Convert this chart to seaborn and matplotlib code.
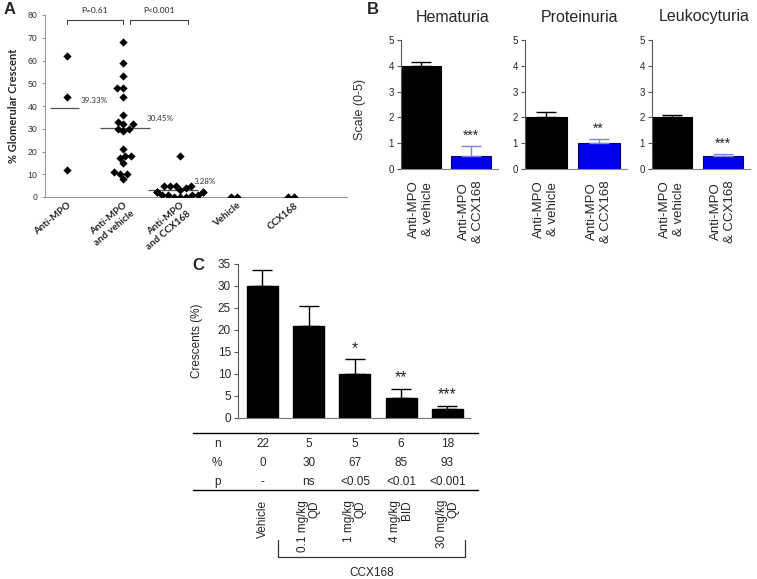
import numpy as np
import pandas as pd
import matplotlib
matplotlib.use('Agg')
import matplotlib.pyplot as plt
import matplotlib.transforms as mtransforms
import seaborn as sns

# ---- data: panel A (% glomerular crescent per mouse) ----
groups_a = ['Anti-MPO', 'Anti-MPO\nand vehicle', 'Anti-MPO\nand CCX168', 'Vehicle', 'CCX168']
anti_mpo = [62, 44, 12]
anti_mpo_vehicle = [68, 59, 53, 48, 48, 44, 36, 33, 32, 32, 30, 30, 29, 21,
                    18, 18, 17, 15, 11, 10, 10, 8]
anti_mpo_ccx = [18, 5, 5, 5, 5, 4, 3, 2, 2, 2, 2, 2, 1, 1, 1, 1, 0, 0, 0]
vehicle_only = [0, 0]
ccx_only = [0, 0]
mean_labels = ['39.33%', '30.45%', '3.28%']
mean_values = [39.33, 30.45, 3.28]
p_labels_a = ['P=0.61', 'P<0.001']

# ---- data: panel B (urine scores) ----
b_titles = ['Hematuria', 'Proteinuria', 'Leukocyturia']
b_groups = ['Anti-MPO\n& vehicle', 'Anti-MPO\n& CCX168']
b_means = [[4.0, 0.5], [2.0, 1.0], [2.0, 0.5]]
b_err = [[0.15, 0.4], [0.22, 0.15], [0.08, 0.1]]
b_stars = ['***', '**', '***']

# ---- data: panel C (dose response) ----
c_groups = ['Vehicle', '0.1 mg/kg\nQD', '1 mg/kg\nQD', '4 mg/kg\nBID', '30 mg/kg\nQD']
c_means = [30, 21, 10, 4.5, 2]
c_err = [3.7, 4.5, 3.3, 2.2, 0.8]
c_stars = ['', '', '*', '**', '***']
table_n = ['22', '5', '5', '6', '18']
table_pct = ['0', '30', '67', '85', '93']
table_p = ['-', 'ns', '<0.05', '<0.01', '<0.001']

sns.set_style('ticks')
plt.rcParams['font.family'] = ['Liberation Sans', 'DejaVu Sans']

W, H = 757, 579
fig = plt.figure(figsize=(W / 100, H / 100), dpi=100)


def rect(l, t, r, b):
    return [l / W, 1 - b / H, (r - l) / W, (b - t) / H]


def ftext(x, y, s, **kw):
    fig.text(x / W, 1 - y / H, s, **kw)


# ================= Panel A =================
axA = fig.add_axes(rect(45, 15, 347, 197))
df_a = pd.DataFrame({
    'group': [groups_a[0]] * len(anti_mpo) + [groups_a[1]] * len(anti_mpo_vehicle)
             + [groups_a[2]] * len(anti_mpo_ccx) + [groups_a[3]] * len(vehicle_only)
             + [groups_a[4]] * len(ccx_only),
    'value': anti_mpo + anti_mpo_vehicle + anti_mpo_ccx + vehicle_only + ccx_only,
})
sns.swarmplot(data=df_a, x='group', y='value', order=groups_a, color='black',
              marker='D', size=4.2, ax=axA, warn_thresh=1)
axA.set_xlim(-0.38, 4.94)
axA.set_ylim(0, 80)
axA.set_yticks(range(0, 81, 10))
axA.set_xlabel('')
axA.set_ylabel('% Glomerular Crescent', family='Lato', fontweight='bold', fontsize=8, labelpad=6)
for s in ['top', 'right']:
    axA.spines[s].set_visible(False)
for s in ['left', 'bottom']:
    axA.spines[s].set_color('#9a9a9a')
    axA.spines[s].set_linewidth(0.8)
axA.tick_params(axis='y', labelsize=6.3, length=2, color='#9a9a9a', labelcolor='#333333')
axA.tick_params(axis='x', length=0, pad=3)
axA.set_xticks(range(len(groups_a)))
axA.set_xticklabels(groups_a, rotation=40, ha='right', va='top', rotation_mode='anchor',
                    family='Lato', fontweight='bold', fontsize=7, color='#222222')

# mean lines and labels
spans = [(-0.30, 0.22), (-0.41, 0.47), (-0.57, 0.31)]
label_pos = [(0.24, 42.3), (1.41, 34.6), (2.23, 6.9)]
for i, (m, lab) in enumerate(zip(mean_values, mean_labels)):
    axA.hlines(m, i + spans[i][0], i + spans[i][1], color='#555555', lw=0.9)
    axA.text(label_pos[i][0], label_pos[i][1], lab, family='Lato', fontsize=5.8,
             color='#333333', ha='left', va='center')

# significance brackets
for (x0, x1), lab in zip([(0.0, 1.0), (1.12, 2.14)], p_labels_a):
    axA.plot([x0, x0, x1, x1], [76, 77.8, 77.8, 76], color='#444444', lw=0.8, clip_on=False)
    axA.text((x0 + x1) / 2, 80.5, lab, family='Lato', fontsize=6, ha='center',
             va='bottom', color='#222222', clip_on=False)

ftext(4, 10, 'A', fontsize=12, fontweight='bold', ha='left', va='center')

# ================= Panel B =================
b_rects = [(401, 498), (525, 627), (652, 750)]
for k in range(3):
    ax = fig.add_axes(rect(b_rects[k][0], 40, b_rects[k][1], 169))
    df_b = pd.DataFrame({'group': b_groups, 'value': b_means[k]})
    sns.barplot(data=df_b, x='group', y='value', hue='group', palette=['black', '#0000ee'],
                legend=False, width=0.8, ax=ax, saturation=1)
    for patch, ec in zip(ax.patches, ['black', '#000066']):
        patch.set_edgecolor(ec)
        patch.set_linewidth(0.8)
    for j in range(2):
        ax.errorbar(j, b_means[k][j], yerr=[[0], [b_err[k][j]]], fmt='none',
                    ecolor='black' if j == 0 else '#8080e8', elinewidth=1, capsize=7,
                    capthick=1)
    top = b_means[k][1] + b_err[k][1]
    ax.text(1, top + 0.12, b_stars[k], ha='center', va='bottom', fontsize=10)
    ax.set_xlim(-0.4, 1.54)
    ax.set_ylim(0, 5)
    ax.set_yticks(range(6))
    ax.set_xlabel('')
    ax.set_ylabel('')
    for s in ['top', 'right']:
        ax.spines[s].set_visible(False)
    ax.spines['bottom'].set_color('#888888')
    ax.spines['left'].set_color('#555555')
    ax.tick_params(axis='y', labelsize=7, length=3, pad=2, color='#555555')
    ax.tick_params(axis='x', length=0, pad=8)
    ax.set_xticks([0, 1])
    ax.set_xticklabels(b_groups, rotation=90, fontsize=9.5, va='top', ha='center')
    ftext((b_rects[k][0] + b_rects[k][1]) / 2 + 3, 17, b_titles[k], fontsize=11.5,
          ha='center', va='center')

ftext(360, 110, 'Scale (0-5)', rotation=90, fontsize=9, ha='center', va='center',
      color='#333333')
ftext(367, 10, 'B', fontsize=12, fontweight='bold', ha='left', va='center')

# ================= Panel C =================
axC = fig.add_axes(rect(238, 264, 470, 418))
df_c = pd.DataFrame({'dose': c_groups, 'crescents': c_means})
sns.barplot(data=df_c, x='dose', y='crescents', color='black', width=0.67,
            saturation=1, ax=axC)
for patch in axC.patches:
    patch.set_edgecolor('black')
axC.errorbar(range(len(c_groups)), c_means, yerr=[np.zeros(len(c_means)), c_err],
             fmt='none', ecolor='black', elinewidth=1, capsize=7, capthick=1)
for i, s in enumerate(c_stars):
    if s:
        axC.text(i, c_means[i] + c_err[i] + 0.8, s, ha='center', va='bottom', fontsize=11.5)
axC.set_xlim(-0.53, 4.49)
axC.set_ylim(0, 35)
axC.set_yticks(range(0, 36, 5))
axC.set_xticks([])
axC.set_xlabel('')
axC.set_ylabel('')
for s in ['top', 'right']:
    axC.spines[s].set_visible(False)
axC.spines['left'].set_color('#555555')
axC.spines['bottom'].set_color('#777777')
axC.tick_params(axis='y', labelsize=8.5, length=3, pad=2, color='#555555')

ftext(197, 341, 'Crescents (%)', rotation=90, fontsize=8.5, ha='center', va='center')
ftext(192, 266, 'C', fontsize=12, fontweight='bold', ha='left', va='center')

# table under the bars (x in data units, y in figure units)
tr = mtransforms.blended_transform_factory(axC.transData, fig.transFigure)


def fy(y):
    return 1 - y / H


for yl in [433, 490]:
    axC.plot([-1.5, 4.66], [fy(yl), fy(yl)], transform=tr, color='black', lw=1.0,
             clip_on=False)
for yrow, lab, vals in [(444, 'n', table_n), (463, '%', table_pct), (482, 'p', table_p)]:
    axC.text(-0.98, fy(yrow), lab, transform=tr, ha='center', va='center', fontsize=8.5)
    for i, v in enumerate(vals):
        axC.text(i, fy(yrow), v, transform=tr, ha='center', va='center', fontsize=8.5)

for i, g in enumerate(c_groups):
    axC.text(i, fy(500), g, transform=tr, rotation=90, ha='center', va='top',
             multialignment='right', fontsize=8.5, linespacing=0.95)

# bracket grouping the CCX168 doses
axC.plot([0.34, 0.34, 4.38, 4.38], [fy(540), fy(557), fy(557), fy(540)], transform=tr,
         color='#333333', lw=0.9, clip_on=False)
axC.text((0.34 + 4.38) / 2, fy(573), 'CCX168', transform=tr, ha='center', va='center',
         fontsize=8.5)

fig.savefig('out.png', dpi=100)
